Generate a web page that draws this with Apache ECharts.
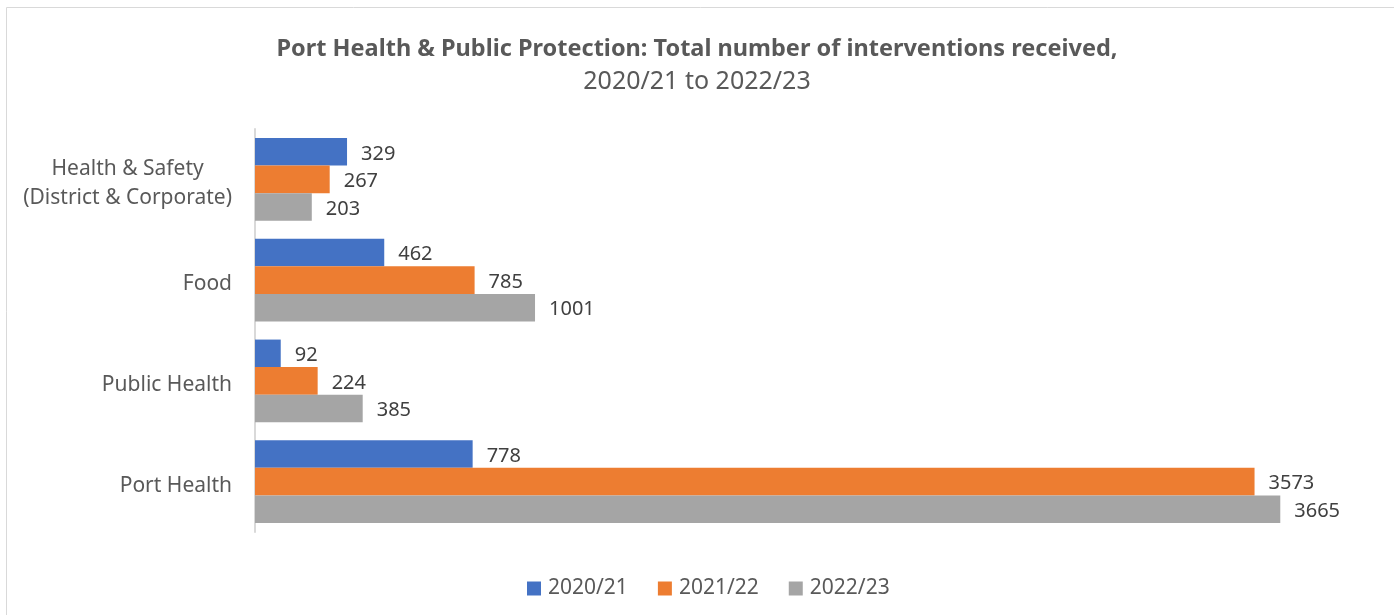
<!DOCTYPE html>
<html>
<head>
<meta charset="utf-8">
<script src="https://cdn.jsdelivr.net/npm/echarts@6/dist/echarts.min.js"></script>
<style>
  html, body { margin: 0; padding: 0; background: #fff; }
  #chart { width: 1394px; height: 615px; }
</style>
</head>
<body>
<div id="chart"></div>
<script>
// categories, top to bottom
const categories = ["Health & Safety (District & Corporate)", "Food", "Public Health", "Port Health"];
const seriesNames = ["2020/21", "2021/22", "2022/23"];
const values2021 = [329, 462, 92, 778];
const values2122 = [267, 785, 224, 3573];
const values2223 = [203, 1001, 385, 3665];
const colors = ["#4472C4", "#ED7D31", "#A5A5A5"];

const chart = echarts.init(document.getElementById("chart"));
const font = "'Noto Sans', sans-serif";

const mkSeries = (name, data, i) => ({
  name: name,
  type: "bar",
  data: data,
  barGap: "0%",
  barCategoryGap: "18%",
  itemStyle: { color: colors[i] },
  label: {
    show: true,
    position: "right",
    distance: 14,
    offset: [0, 2],
    color: "#404040",
    fontFamily: font,
    fontSize: 20
  }
});

const option = {
  animation: false,
  title: {
    left: "center",
    top: 28,
    text: "{b|Port Health & Public Protection: Total number of interventions received,}\n{n|2020/21 to 2022/23}",
    textStyle: {
      rich: {
        b: { fontFamily: font, fontSize: 23.5, fontWeight: "bold", color: "#595959", lineHeight: 32, align: "center" },
        n: { fontFamily: font, fontSize: 25, fontWeight: "normal", color: "#595959", lineHeight: 33, align: "center" }
      }
    }
  },
  graphic: [{
    type: "rect",
    shape: { x: 6.5, y: 7.5, width: 1400, height: 620 },
    style: { fill: "none", stroke: "#d9d9d9", lineWidth: 1 }
  }],
  legend: {
    bottom: 11,
    left: 522,
    itemWidth: 14,
    itemHeight: 14,
    itemGap: 30,
    icon: "rect",
    textStyle: { fontFamily: font, fontSize: 21, color: "#595959", padding: [0, 0, 0, 2] },
    data: seriesNames
  },
  grid: { left: 255, right: 20, top: 129, bottom: 83 },
  xAxis: {
    type: "value",
    min: 0,
    max: 4000,
    show: false
  },
  yAxis: {
    type: "category",
    inverse: true,
    data: categories,
    axisLine: { lineStyle: { color: "#d9d9d9", width: 2 } },
    axisTick: { show: false },
    axisLabel: {
      margin: 23,
      padding: [8, 0, 0, 0],
      fontFamily: font,
      fontSize: 21,
      color: "#595959",
      formatter: function (v) {
        if (v.indexOf("(") > 0) {
          const p = v.indexOf("(");
          return "{c|" + v.slice(0, p - 1) + "}\n{c|" + v.slice(p) + "}";
        }
        return "{c|" + v + "}";
      },
      rich: {
        c: { fontFamily: font, fontSize: 21, color: "#595959", lineHeight: 29, align: "center" }
      }
    }
  },
  series: [
    mkSeries(seriesNames[0], values2021, 0),
    mkSeries(seriesNames[1], values2122, 1),
    mkSeries(seriesNames[2], values2223, 2)
  ]
};
chart.setOption(option);
</script>
</body>
</html>
